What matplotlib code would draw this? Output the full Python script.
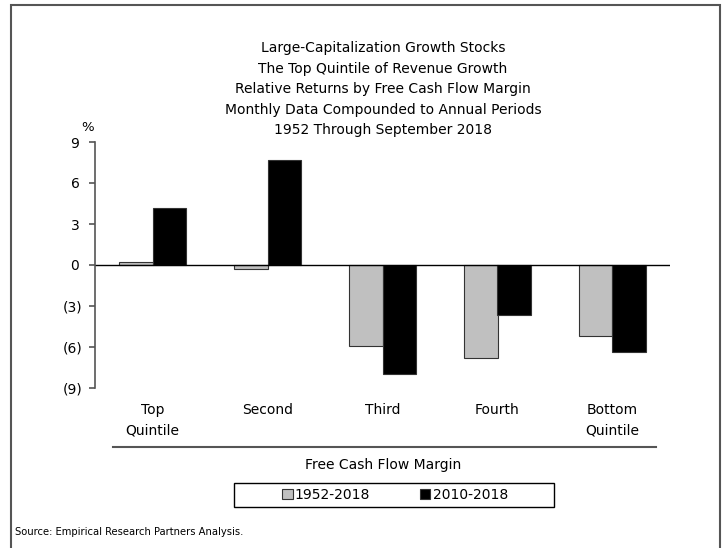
import matplotlib.pyplot as plt
from matplotlib.patches import Rectangle
from matplotlib.lines import Line2D
import numpy as np

categories = ["Top\nQuintile", "Second", "Third", "Fourth", "Bottom\nQuintile"]
series_names = ["1952-2018", "2010-2018"]
long_run = [0.2, -0.3, -5.9, -6.8, -5.2]
recent = [4.2, 7.7, -8.0, -3.65, -6.35]
y_ticks = [-9, -6, -3, 0, 3, 6, 9]
title_lines = [
    "Large-Capitalization Growth Stocks",
    "The Top Quintile of Revenue Growth",
    "Relative Returns by Free Cash Flow Margin",
    "Monthly Data Compounded to Annual Periods",
    "1952 Through September 2018",
]

W, H = 727, 548


def fx(px):
    return px / W


def fy(py):
    return 1 - py / H


def main():
    plt.rcParams['font.family'] = 'DejaVu Sans'
    fig = plt.figure(figsize=(W / 100, H / 100), dpi=100)

    # outer frame
    fig.patches.append(Rectangle((fx(11), fy(560)), fx(720) - fx(11), fy(5) - fy(560),
                                 transform=fig.transFigure, fill=False,
                                 edgecolor='#555555', lw=1.5))

    ax = fig.add_axes([fx(95), fy(388), fx(670) - fx(95), fy(142) - fy(388)])
    x = np.arange(len(categories))
    w = 0.29
    ax.bar(x - w / 2, long_run, w, color='#c0c0c0', edgecolor='#333333', lw=0.8,
           label=series_names[0])
    ax.bar(x + w / 2, recent, w, color='black', edgecolor='#333333', lw=0.8,
           label=series_names[1])
    ax.axhline(0, color='black', lw=1)

    ax.set_xlim(-0.5, len(categories) - 0.5)
    ax.set_ylim(-9, 9)
    ax.set_yticks(y_ticks)
    # digits line up, the closing bracket hangs out like in Excel
    ax.set_yticklabels([f"({abs(v)})" if v < 0 else f"{v}\u2009" for v in y_ticks], fontsize=10)
    ax.set_xticks(x)
    ax.set_xticklabels(categories, fontsize=10)
    for lbl in ax.get_xticklabels():
        lbl.set_linespacing(1.55)
    ax.tick_params(axis='x', length=0, pad=11)
    ax.tick_params(axis='y', length=4, color='#555555', width=1.2, pad=5)
    for s in ['top', 'right', 'bottom']:
        ax.spines[s].set_visible(False)
    ax.spines['left'].set_color('#555555')
    ax.spines['left'].set_linewidth(1.2)

    fig.text(fx(88), fy(128), "%", ha='center', va='center', fontsize=9.5)

    for i, line in enumerate(title_lines):
        fig.text(fx(383), fy(48 + i * 20.6), line, ha='center', va='center', fontsize=10)

    fig.add_artist(Line2D([fx(113), fx(656)], [fy(447), fy(447)],
                          transform=fig.transFigure, color='#555555', lw=1.5))
    fig.text(fx(383), fy(465), "Free Cash Flow Margin", ha='center', va='center', fontsize=10)

    # legend box drawn by hand so it can be wider than its contents
    fig.patches.append(Rectangle((fx(234), fy(507)), fx(554) - fx(234), fy(483) - fy(507),
                                 transform=fig.transFigure, fill=False,
                                 edgecolor='black', lw=1))
    fig.legend(loc='center', bbox_to_anchor=(fx(395), fy(495)), ncol=2,
               fontsize=10, frameon=False,
               handlelength=0.75, handleheight=0.75, handletextpad=0.15,
               columnspacing=3.6, borderpad=0, borderaxespad=0)

    fig.text(fx(15), fy(532), "Source: Empirical Research Partners Analysis.",
             ha='left', va='center', fontsize=7.2)

    fig.savefig("out.png", dpi=100)


if __name__ == '__main__':
    main()
